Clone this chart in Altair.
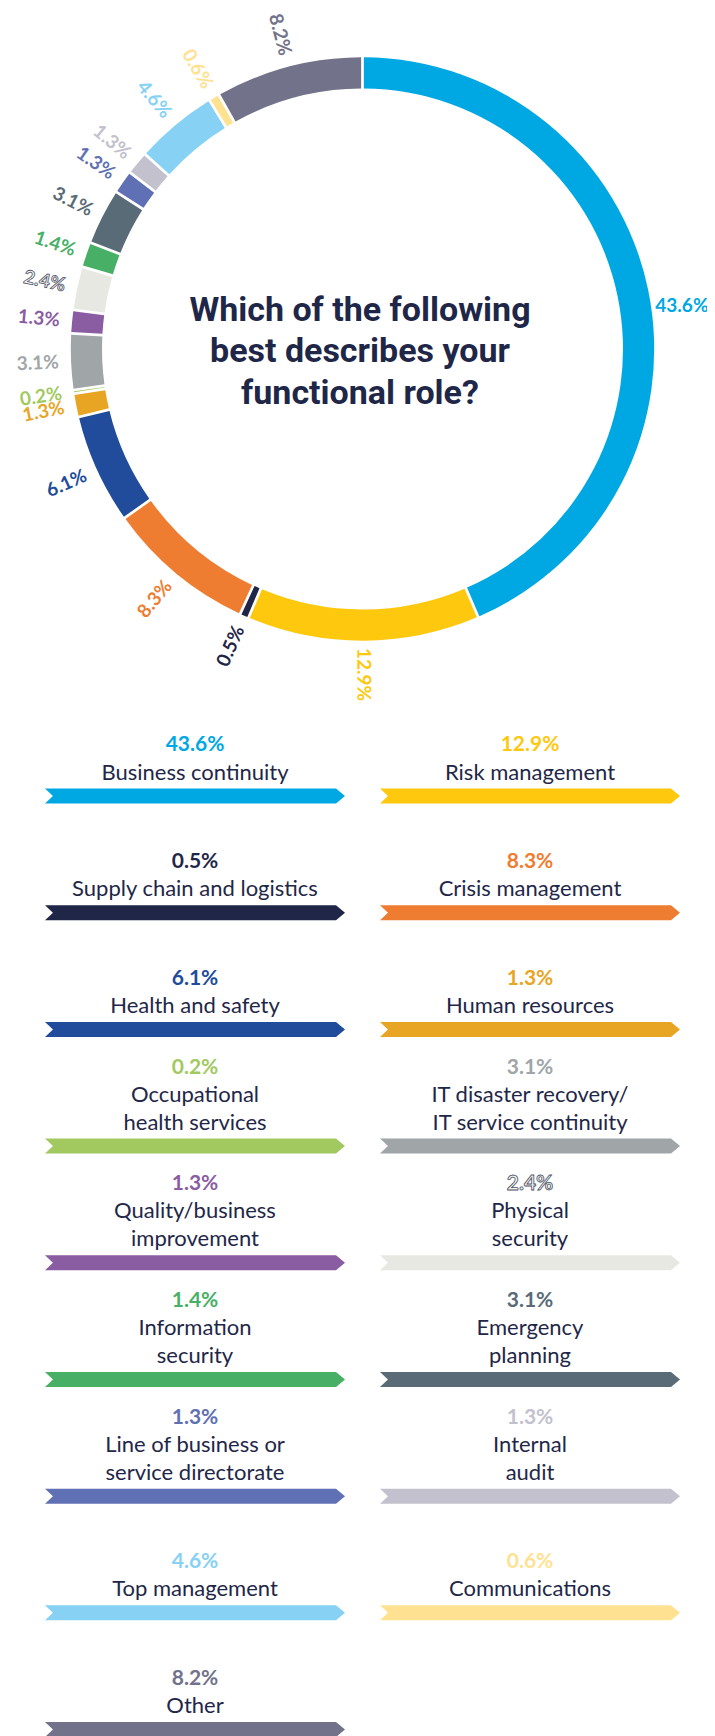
import altair as alt
import pandas as pd

# ---------------- data ----------------
ROLES = [
    "Business continuity", "Risk management", "Supply chain and logistics",
    "Crisis management", "Health and safety", "Human resources",
    "Occupational\nhealth services", "IT disaster recovery/\nIT service continuity",
    "Quality/business\nimprovement", "Physical\nsecurity", "Information\nsecurity",
    "Emergency\nplanning", "Line of business or\nservice directorate", "Internal\naudit",
    "Top management", "Communications", "Other",
]
SHARES = [43.6, 12.9, 0.5, 8.3, 6.1, 1.3, 0.2, 3.1, 1.3, 2.4, 1.4, 3.1, 1.3, 1.3, 4.6, 0.6, 8.2]
COLORS = [
    "#00a8e3", "#fdc80e", "#1f2648", "#ee7d31", "#214b9b", "#e8a523", "#a2c95f",
    "#a0a5a8", "#8a5ca2", "#e8e8e3", "#47b066", "#586b76", "#6070b4", "#c2c1cd",
    "#86d1f4", "#fee291", "#72728a",
]
TITLE_LINES = ["Which of the following", "best describes your", "functional role?"]
OUTLINED = "Physical\\nsecurity"   # as written inside a Vega expression

INK = "#1f2748"
CX, CY = 354.5, 341
RIBBON = "M -1 -0.05 L 0.94 -0.05 L 1 0 L 0.94 0.05 L -1 0.05 L -0.947 0 Z"

df = pd.DataFrame({"role": ROLES, "share": SHARES, "idx": list(range(len(ROLES)))})
tdf = pd.DataFrame({"line": TITLE_LINES, "k": list(range(len(TITLE_LINES)))})

color = alt.Color("role:N", scale=alt.Scale(domain=ROLES, range=COLORS), legend=None)
xg = alt.X("col:Q", scale=alt.Scale(domain=[0, 1], range=[187, 522]), axis=None)
yscale = alt.Scale(domain=[0, 8], range=[788, 1721.5])

base = alt.Chart()

# ---------------- donut ----------------
arcs = base.mark_arc(innerRadius=260.5, outerRadius=291.7, padAngle=0.007).encode(
    theta=alt.Theta("t0:Q", scale=None),
    theta2="t1:Q",
    color=color,
    x=alt.value(CX),
    y=alt.value(CY),
)

lab = dict(fontWeight="bold", fontSize=19, font="Lato", baseline="middle")
lab_enc = dict(
    theta=alt.Theta("tm:Q", scale=None),
    angle=alt.Angle("ang:Q", scale=None),
    text="pct:N",
    x=alt.value(CX),
    y=alt.value(CY),
)
flat_lab = base.transform_filter("datum.deg < 135").mark_text(
    radius=299, align="left", dy=18, **lab
).encode(color=color, **lab_enc)
out_lab = base.transform_filter("datum.deg >= 135 && datum.deg < 190").mark_text(
    radius=299, align="left", **lab
).encode(color=color, **lab_enc)
in_lab = base.transform_filter(
    f"datum.deg >= 190 && datum.role != '{OUTLINED}'"
).mark_text(radius=304, align="right", **lab).encode(color=color, **lab_enc)
ol_lab = base.transform_filter(f"datum.role == '{OUTLINED}'").mark_text(
    radius=304, align="right", fill="#f4f4f0", stroke="#4d5266", strokeWidth=0.8, **lab
).encode(**lab_enc)

title = alt.Chart(tdf).mark_text(
    font="Roboto", fontSize=34, fontWeight="bold",
    color=INK, align="center", baseline="alphabetic",
).encode(
    x=alt.value(352),
    y=alt.Y("k:Q", scale=alt.Scale(domain=[0, 2], range=[312.5, 395.6]), axis=None),
    text="line:N",
)

# ---------------- grid ----------------
ribbons = base.mark_point(
    shape=RIBBON, size=90000, filled=True, opacity=1, strokeWidth=0
).encode(x=xg, y=alt.Y("row:Q", scale=yscale, axis=None), color=color)

names = (
    base.transform_calculate(lines="split(datum.role, '\\n')")
    .transform_flatten(["lines"], as_=["line"])
    .transform_window(li="row_number()", groupby=["idx"])
    .transform_calculate(ly="datum.row - (datum.nlines - datum.li) * 0.24")
    .mark_text(font="Lato", fontSize=22, color=INK, dy=-16.5, baseline="alphabetic", align="center")
    .encode(x=xg, y=alt.Y("ly:Q", scale=yscale, axis=None), text="line:N")
)

pct_common = dict(font="Lato", fontSize=21, fontWeight="bold", dy=-16.5,
                  baseline="alphabetic", align="center")
pcts = base.transform_filter(f"datum.role != '{OUTLINED}'").mark_text(**pct_common).encode(
    x=xg, y=alt.Y("py:Q", scale=yscale, axis=None), text="pct:N", color=color
)
pct_ol = base.transform_filter(f"datum.role == '{OUTLINED}'").mark_text(
    fill="#f4f4f0", stroke="#4d5266", strokeWidth=0.8, **pct_common
).encode(x=xg, y=alt.Y("py:Q", scale=yscale, axis=None), text="pct:N")

chart = (
    alt.layer(arcs, flat_lab, out_lab, in_lab, ol_lab, title, ribbons, names, pcts, pct_ol, data=df)
    .transform_window(cum="sum(share)", sort=[alt.SortField("idx")], frame=[None, 0])
    .transform_joinaggregate(total="sum(share)")
    .transform_calculate(
        t0="(datum.cum - datum.share) / datum.total * 2 * PI",
        t1="datum.cum / datum.total * 2 * PI",
    )
    .transform_calculate(tm="(datum.t0 + datum.t1) / 2")
    .transform_calculate(deg="datum.tm * 180 / PI")
    .transform_calculate(
        ang="datum.deg < 190 ? (datum.deg > 135 ? datum.deg - 90 : 0) : datum.deg - 270",
        col="datum.idx % 2",
        row="floor(datum.idx / 2)",
        nlines="length(split(datum.role, '\\n'))",
        pct="format(datum.share, '.1f') + '%'",
    )
    .transform_calculate(py="datum.row - datum.nlines * 0.24")
    .resolve_scale(y="independent")
    .properties(width=699, height=1740, padding=0,
                autosize=alt.AutoSizeParams(type="none"), background="white")
    .configure_view(stroke=None)
)

chart.save("out.html", embed_options={"renderer": "svg", "actions": False})
